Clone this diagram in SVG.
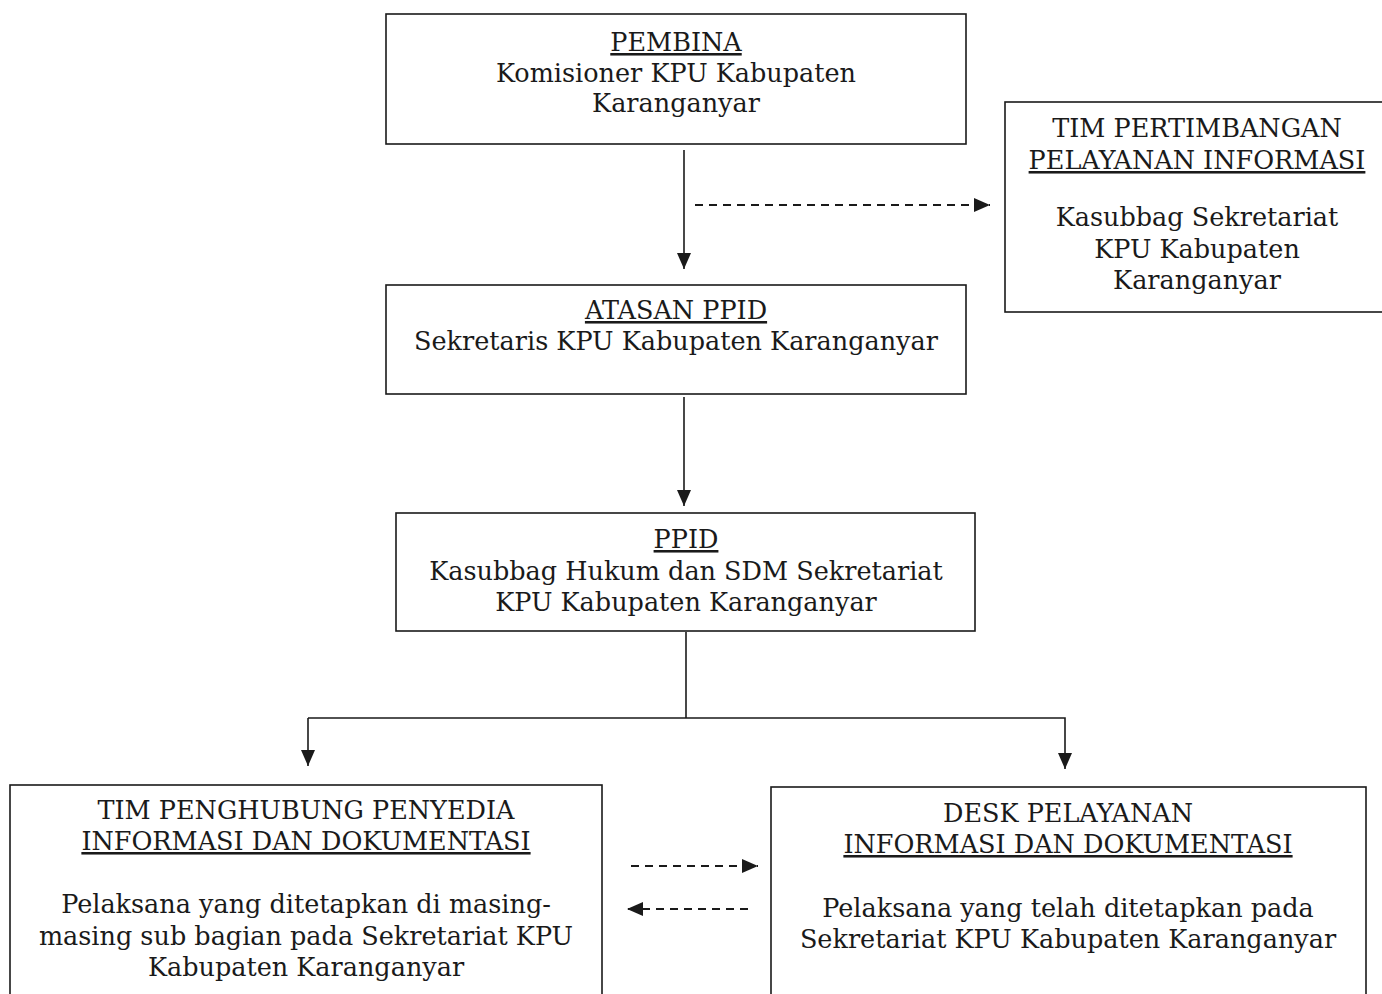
<svg xmlns="http://www.w3.org/2000/svg" width="1382" height="994" viewBox="0 0 1382 994">
<style>
.box{fill:#fff;stroke:#1a1a1a;stroke-width:1.6}
.t{font-family:"DejaVu Serif","Liberation Serif",serif;font-size:25.5px;fill:#1a1a1a;text-anchor:middle}
.u{text-decoration:underline}
.ln{fill:none;stroke:#1a1a1a;stroke-width:1.6}
.ds{fill:none;stroke:#1a1a1a;stroke-width:1.8;stroke-dasharray:8,6}
</style>
<defs>
<marker id="ah" viewBox="0 0 16 14" refX="16" refY="7" markerWidth="16" markerHeight="14" markerUnits="userSpaceOnUse" orient="auto">
<path d="M0,0 L16,7 L0,14 z" fill="#1a1a1a"/>
</marker>
</defs>
<rect width="1382" height="994" fill="#fff"/>
<g id="connectors">
<line class="ln" x1="684" y1="150" x2="684" y2="269" marker-end="url(#ah)"/>
<line class="ds" x1="695" y1="205" x2="990" y2="205" marker-end="url(#ah)"/>
<line class="ln" x1="684" y1="397" x2="684" y2="506" marker-end="url(#ah)"/>
<polyline class="ln" points="686,632 686,718"/>
<polyline class="ln" points="308,718 1065,718 1065,769" marker-end="url(#ah)"/>
<line class="ln" x1="308" y1="718" x2="308" y2="766" marker-end="url(#ah)"/>
<line class="ds" x1="631" y1="866" x2="758" y2="866" marker-end="url(#ah)"/>
<line class="ds" x1="748" y1="909" x2="627" y2="909" marker-end="url(#ah)"/>
</g>
<g id="pembina">
<rect class="box" x="386" y="14" width="580" height="130"/>
<text class="t u" x="676" y="51">PEMBINA</text>
<text class="t" x="676" y="82">Komisioner KPU Kabupaten</text>
<text class="t" x="676" y="112">Karanganyar</text>
</g>
<g id="tim-pertimbangan">
<rect class="box" x="1005" y="102" width="380" height="210"/>
<text class="t" x="1197" y="137">TIM PERTIMBANGAN</text>
<text class="t u" x="1197" y="169">PELAYANAN INFORMASI</text>
<text class="t" x="1197" y="226">Kasubbag Sekretariat</text>
<text class="t" x="1197" y="258">KPU Kabupaten</text>
<text class="t" x="1197" y="289">Karanganyar</text>
</g>
<g id="atasan-ppid">
<rect class="box" x="386" y="285" width="580" height="109"/>
<text class="t u" x="676" y="319">ATASAN PPID</text>
<text class="t" x="676" y="350">Sekretaris KPU Kabupaten Karanganyar</text>
</g>
<g id="ppid">
<rect class="box" x="396" y="513" width="579" height="118"/>
<text class="t u" x="686" y="548">PPID</text>
<text class="t" x="686" y="580">Kasubbag Hukum dan SDM Sekretariat</text>
<text class="t" x="686" y="611">KPU Kabupaten Karanganyar</text>
</g>
<g id="tim-penghubung">
<rect class="box" x="10" y="785" width="592" height="215"/>
<text class="t" x="306" y="819">TIM PENGHUBUNG PENYEDIA</text>
<text class="t u" x="306" y="850">INFORMASI DAN DOKUMENTASI</text>
<text class="t" x="306" y="913">Pelaksana yang ditetapkan di masing-</text>
<text class="t" x="306" y="945">masing sub bagian pada Sekretariat KPU</text>
<text class="t" x="306" y="976">Kabupaten Karanganyar</text>
</g>
<g id="desk-pelayanan">
<rect class="box" x="771" y="787" width="595" height="215"/>
<text class="t" x="1068" y="822">DESK PELAYANAN</text>
<text class="t u" x="1068" y="853">INFORMASI DAN DOKUMENTASI</text>
<text class="t" x="1068" y="917">Pelaksana yang telah ditetapkan pada</text>
<text class="t" x="1068" y="948">Sekretariat KPU Kabupaten Karanganyar</text>
</g>
</svg>
